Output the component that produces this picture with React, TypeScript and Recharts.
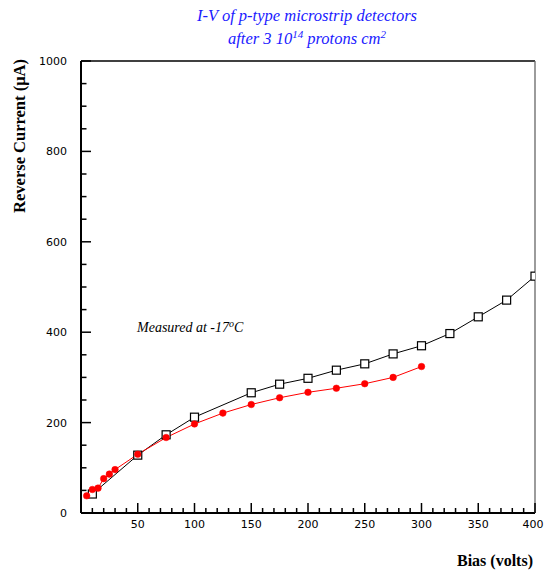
import React from "react";
import { LineChart, Line, XAxis, YAxis } from "recharts";

const biasSquares = [10, 50, 75, 100, 150, 175, 200, 225, 250, 275, 300, 325, 350, 375, 400];
const currentSquares = [42, 128, 173, 212, 266, 285, 298, 316, 330, 352, 370, 397, 434, 471, 524];
const biasDots = [5, 10, 15, 20, 25, 30, 50, 75, 100, 125, 150, 175, 200, 225, 250, 275, 300];
const currentDots = [38, 52, 55, 76, 86, 96, 130, 167, 197, 221, 240, 255, 267, 276, 286, 300, 324];

const xTicks = Array.from({ length: 41 }, (_, i) => i * 10);
const yTicks = Array.from({ length: 21 }, (_, i) => i * 50);

const squareData = biasSquares.map((b, i) => ({ bias: b, current: currentSquares[i] }));
const dotData = biasDots.map((b, i) => ({ bias: b, current: currentDots[i] }));

const W = 547;
const H = 573;
const AXB = 20;
const AXL = 20;
const AXT = 2;
const AXR = 2;
const M = { left: 81 - AXL, right: 12 - AXR, top: 61 - AXT, bottom: 60 - AXB };
const tickFont = "'DejaVu Sans', Arial, sans-serif";
const serif = "'Liberation Serif', 'Times New Roman', serif";

const XTick = (props: any) => {
  const { x, y, payload } = props;
  const v = payload.value;
  const major = v % 50 === 0;
  const len = major ? 10 : 5;
  return (
    <g>
      <path d={`M${x},${y}V${y - len}`} stroke="#000" strokeWidth={1.5} fill="none" />
      {major && v !== 0 ? (
        <text x={v === 400 ? x - 2 : x} y={y + 15} textAnchor="middle" fontFamily={tickFont} fontSize={11} fill="#000">
          {v}
        </text>
      ) : null}
    </g>
  );
};

const YTick = (props: any) => {
  const { x, y, payload } = props;
  const v = payload.value;
  const major = v % 200 === 0;
  const len = major ? 10 : 5.5;
  return (
    <g>
      <path d={`M${x},${y}H${x + len}`} stroke="#000" strokeWidth={1.5} fill="none" />
      {major ? (
        <text x={x - 14} y={y + 4} textAnchor="end" fontFamily={tickFont} fontSize={11} fill="#000">
          {v}
        </text>
      ) : null}
    </g>
  );
};

const SquareDot = (props: any) => {
  const { cx, cy } = props;
  if (cx == null || cy == null) return null;
  return <rect x={cx - 4} y={cy - 4} width={8} height={8} fill="#fff" stroke="#000" strokeWidth={1.2} />;
};

export default function App() {
  return (
    <div style={{ position: "absolute", left: 0, top: 0, width: W, height: H, background: "#fff" }}>
      <LineChart width={W} height={H} data={squareData} margin={M}>
        <XAxis
          xAxisId="b"
          type="number"
          dataKey="bias"
          domain={[0, 400]}
          ticks={xTicks}
          interval={0}
          tick={<XTick />}
          tickLine={false}
          tickSize={0}
          tickMargin={0}
          height={AXB}
          axisLine={{ stroke: "#000", strokeWidth: 2 }}
          allowDataOverflow
        />
        <XAxis
          xAxisId="t"
          orientation="top"
          type="number"
          domain={[0, 400]}
          tick={false}
          tickLine={false}
          height={AXT}
          axisLine={{ stroke: "#000", strokeWidth: 1.3 }}
        />
        <YAxis
          yAxisId="l"
          type="number"
          domain={[0, 1000]}
          ticks={yTicks}
          interval={0}
          tick={<YTick />}
          tickLine={false}
          tickSize={0}
          tickMargin={0}
          width={AXL}
          axisLine={{ stroke: "#000", strokeWidth: 2 }}
          allowDataOverflow
        />
        <YAxis
          yAxisId="r"
          orientation="right"
          type="number"
          domain={[0, 1000]}
          tick={false}
          tickLine={false}
          width={AXR}
          axisLine={{ stroke: "#666", strokeWidth: 1.3 }}
        />
        <Line
          xAxisId="b"
          yAxisId="l"
          data={squareData}
          dataKey="current"
          stroke="#000"
          strokeWidth={1}
          dot={<SquareDot />}
          activeDot={false}
          isAnimationActive={false}
        />
        <Line
          xAxisId="b"
          yAxisId="l"
          data={dotData}
          dataKey="current"
          stroke="#ff0000"
          strokeWidth={1}
          dot={{ r: 3.3, fill: "#ff0000", stroke: "#ff0000", strokeWidth: 0.5 }}
          activeDot={false}
          isAnimationActive={false}
        />
      </LineChart>
      <svg
        width={W}
        height={H}
        style={{ position: "absolute", left: 0, top: 0, pointerEvents: "none" }}
      >
        <text x={307} y={21} textAnchor="middle" fontFamily={serif} fontStyle="italic" fontSize={16.5} fill="#1a1aff">
          I-V of p-type microstrip detectors
        </text>
        <text x={307} y={44} textAnchor="middle" fontFamily={serif} fontStyle="italic" fontSize={16.5} fill="#1a1aff">
          after 3 10<tspan dy={-6} fontSize={11}>14</tspan>
          <tspan dy={6}> protons cm</tspan>
          <tspan dy={-6} fontSize={11}>2</tspan>
        </text>
        <text
          x={25}
          y={136}
          transform="rotate(-90 25 136)"
          textAnchor="middle"
          fontFamily={serif}
          fontWeight="bold"
          fontSize={16.5}
          fill="#000"
        >
          Reverse Current (μA)
        </text>
        <text x={533} y={566} textAnchor="end" fontFamily={serif} fontWeight="bold" fontSize={16} fill="#000">
          Bias (volts)
        </text>
        <text x={137} y={332} fontFamily={serif} fontStyle="italic" fontSize={14} fill="#000">
          Measured at -17<tspan dy={-5} fontSize={10}>o</tspan>
          <tspan dy={5}>C</tspan>
        </text>
      </svg>
    </div>
  );
}
